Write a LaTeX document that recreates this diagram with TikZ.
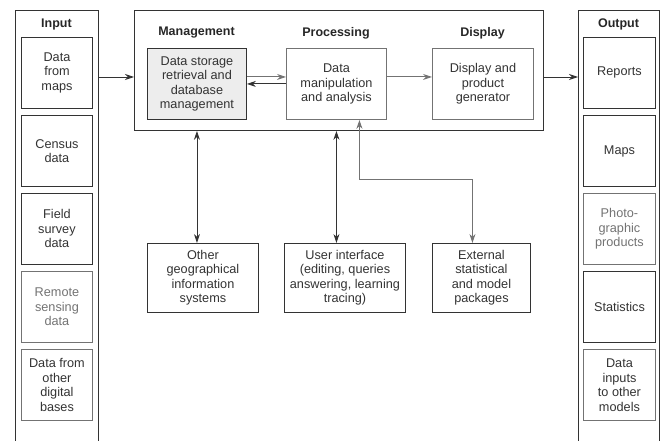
\documentclass[tikz,border=0pt]{standalone}
\usepackage{fontspec}
\setmainfont{Liberation Sans}
\usetikzlibrary{arrows.meta}

\definecolor{linedark}{gray}{0.2}
\definecolor{linegray}{gray}{0.45}
\definecolor{textgray}{gray}{0.45}
\definecolor{boxfill}{gray}{0.93}

\tikzset{
  frame/.style={draw=linedark, line width=0.9pt},
  box/.style={draw=linedark, line width=0.9pt, anchor=north west, align=center, inner sep=1pt,
    text=black!80, font=\fontsize{12.7}{14.5}\selectfont},
  lightbox/.style={box, draw=linegray},
  colbox/.style={box, minimum width=71pt, minimum height=71pt},
  head/.style={text=black!85, font=\bfseries\fontsize{12.5}{15}\selectfont},
  link/.style={draw=linedark, line width=0.9pt, -{Stealth[length=9pt,width=6pt]}},
  twolink/.style={link, {Stealth[length=9pt,width=6pt]}-{Stealth[length=9pt,width=6pt]}},
}

\begin{document}
\begin{tikzpicture}[x=1pt, y=-1pt]
\useasboundingbox (0,0) rectangle (661,441);

% Input column (open at the bottom)
\draw[frame] (15,441) -- (15,10) -- (98,10) -- (98,441);
\node[head] (inhead) at (56.5,24) {Input};
\node[colbox] (in1) at (21,37) {Data\\from\\maps};
\node[colbox] (in2) at (21,115) {Census\\data};
\node[colbox] (in3) at (21,193) {Field\\survey\\data};
\node[colbox, draw=linegray, text=textgray] (in4) at (21,271) {Remote\\sensing\\data};
\node[colbox, draw=linegray] (in5) at (21,349) {Data from\\other\\digital\\bases};
\coordinate (incol) at (98,77);

% Main system box
\node[frame, anchor=north west, minimum width=409pt, minimum height=120pt] (main) at (134,10) {};
\node[head] (mgmthead) at (196.5,33) {Management};
\node[head] (prochead) at (336,33) {Processing};
\node[head] (disphead) at (482.5,33) {Display};
\node[box, fill=boxfill, minimum width=99pt, minimum height=71pt] (mgmt) at (147,48) {Data storage\\retrieval and\\database\\management};
\node[lightbox, minimum width=100pt, minimum height=71pt] (proc) at (286,48) {Data\\manipulation\\and analysis};
\node[lightbox, minimum width=101pt, minimum height=71pt] (disp) at (432,48) {Display and\\product\\generator};

% Output column (open at the bottom)
\draw[frame] (578,441) -- (578,10) -- (659,10) -- (659,441);
\node[head] (outhead) at (618.5,24) {Output};
\node[colbox, minimum width=72pt] (out1) at (583,37) {Reports};
\node[colbox, minimum width=72pt] (out2) at (583,115) {Maps};
\node[colbox, minimum width=72pt, draw=linegray, text=textgray] (out3) at (583,193) {Photo-\\graphic\\products};
\node[colbox, minimum width=72pt] (out4) at (583,271) {Statistics};
\node[colbox, minimum width=72pt, draw=linegray] (out5) at (583,349) {Data\\inputs\\to other\\models};
\coordinate (outcol) at (578,77);

% Linked systems below
\node[box, minimum width=111pt, minimum height=69pt] (other) at (147,243) {Other\\geographical\\information\\systems};
\node[box, minimum width=121pt, minimum height=69pt] (ui) at (284,243) {User interface\\(editing, queries\\answering, learning\\tracing)};
\node[box, minimum width=98pt, minimum height=69pt] (ext) at (432,243) {External\\statistical\\and model\\packages};

% Connectors
\draw[link] (incol) -- (incol -| main.west);
\draw[link] (main.east |- outcol) -- (outcol);
\draw[link, draw=linegray] ([yshift=7pt]mgmt.east) -- ([yshift=7pt]proc.west);
\draw[link] (proc.west) -- (mgmt.east);
\draw[link, draw=linegray] ([yshift=7pt]proc.east) -- ([yshift=7pt]disp.west);
\draw[twolink] (mgmt.south |- main.south) -- (mgmt.south |- other.north);
\draw[twolink] (proc.south |- main.south) -- (proc.south |- ui.north);
\draw[twolink, draw=linegray] ([xshift=23pt]proc.south) -- ++(0,60) -| ([xshift=-9pt]ext.north);
\end{tikzpicture}
\end{document}
